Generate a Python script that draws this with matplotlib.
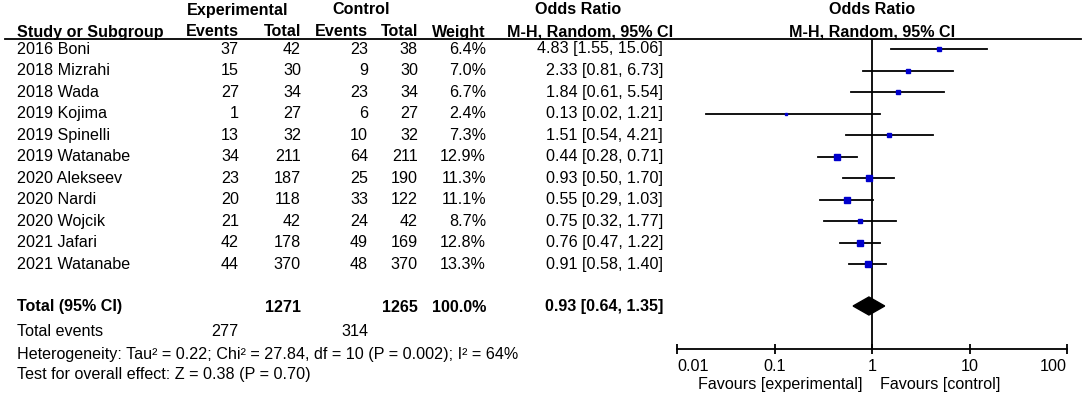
import matplotlib
matplotlib.use("Agg")
import matplotlib.pyplot as plt
import numpy as np
from matplotlib.patches import Polygon

plt.rcParams["font.family"] = ["Liberation Sans", "DejaVu Sans"]

# ----- data -----
studies = ["2016 Boni", "2018 Mizrahi", "2018 Wada", "2019 Kojima",
           "2019 Spinelli", "2019 Watanabe", "2020 Alekseev", "2020 Nardi",
           "2020 Wojcik", "2021 Jafari", "2021 Watanabe"]
exp_events = [37, 15, 27, 1, 13, 34, 23, 20, 21, 42, 44]
exp_total = [42, 30, 34, 27, 32, 211, 187, 118, 42, 178, 370]
ctl_events = [23, 9, 23, 6, 10, 64, 25, 33, 24, 49, 48]
ctl_total = [38, 30, 34, 27, 32, 211, 190, 122, 42, 169, 370]
weight = [6.4, 7.0, 6.7, 2.4, 7.3, 12.9, 11.3, 11.1, 8.7, 12.8, 13.3]
odds = [4.83, 2.33, 1.84, 0.13, 1.51, 0.44, 0.93, 0.55, 0.75, 0.76, 0.91]
ci_low = [1.55, 0.81, 0.61, 0.02, 0.54, 0.28, 0.50, 0.29, 0.32, 0.47, 0.58]
ci_high = [15.06, 6.73, 5.54, 1.21, 4.21, 0.71, 1.70, 1.03, 1.77, 1.22, 1.40]

total_exp, total_ctl = 1271, 1265
total_weight = 100.0
events_exp, events_ctl = 277, 314
pooled, pooled_lo, pooled_hi = 0.93, 0.64, 1.35
heterogeneity = "Heterogeneity: Tau² = 0.22; Chi² = 27.84, df = 10 (P = 0.002); I² = 64%"
overall = "Test for overall effect: Z = 0.38 (P = 0.70)"
xticks = [0.01, 0.1, 1, 10, 100]
xtick_labels = ["0.01", "0.1", "1", "10", "100"]

W, H = 1084, 397
FS = 11.6
BLUE = "#0000cc"

fig = plt.figure(figsize=(W / 100, H / 100), dpi=100)

# text layer in pixel coordinates
ax = fig.add_axes([0, 0, 1, 1])
ax.set_xlim(0, W)
ax.set_ylim(H, 0)
ax.axis("off")

# column right edges (px)
c_ee, c_et, c_ce, c_ct, c_w, c_or = 239, 301, 368, 418, 486, 663

def t(x, y, s, ha="left", bold=False):
    ax.text(x, y, s, ha=ha, va="center", fontsize=FS,
            fontweight="bold" if bold else "normal")

# headers
t(238, 10, "Experimental", "center", True)
t(361, 10, "Control", "center", True)
t(578, 10, "Odds Ratio", "center", True)
t(872, 10, "Odds Ratio", "center", True)
t(17, 32, "Study or Subgroup", bold=True)
t(c_ee, 32, "Events", "right", True)
t(c_et, 32, "Total", "right", True)
t(c_ce, 32, "Events", "right", True)
t(c_ct, 32, "Total", "right", True)
t(c_w, 32, "Weight", "right", True)
t(590, 32, "M-H, Random, 95% CI", "center", True)
t(872, 32, "M-H, Random, 95% CI", "center", True)
ax.plot([5, 1081], [38.5, 38.5], color="black", lw=1.3)

row_y = 49 + 21.55 * np.arange(len(studies))
for i, y in enumerate(row_y):
    t(17, y, studies[i])
    t(c_ee, y, str(exp_events[i]), "right")
    t(c_et, y, str(exp_total[i]), "right")
    t(c_ce, y, str(ctl_events[i]), "right")
    t(c_ct, y, str(ctl_total[i]), "right")
    t(c_w, y, f"{weight[i]:.1f}%", "right")
    t(c_or, y, f"{odds[i]:.2f} [{ci_low[i]:.2f}, {ci_high[i]:.2f}]", "right")

y_tot = 307
t(17, y_tot, "Total (95% CI)", bold=True)
t(c_et, y_tot, str(total_exp), "right", True)
t(c_ct, y_tot, str(total_ctl), "right", True)
t(c_w, y_tot, f"{total_weight:.1f}%", "right", True)
t(c_or, y_tot, f"{pooled:.2f} [{pooled_lo:.2f}, {pooled_hi:.2f}]", "right", True)
t(17, 332, "Total events")
t(c_ee, 332, str(events_exp), "right")
t(c_ce, 332, str(events_ctl), "right")
t(17, 355, heterogeneity)
t(17, 375, overall)
t(862, 385, "Favours [experimental]", "right")
t(880, 385, "Favours [control]")

# forest panel, log scale; y kept in pixel units
x0, x1, ytop, ybot = 677, 1067, 38.5, 349
axf = fig.add_axes([x0 / W, (H - ybot) / H, (x1 - x0) / W, (ybot - ytop) / H])
axf.patch.set_alpha(0)
axf.set_xscale("log")
axf.set_xlim(xticks[0], xticks[-1])
axf.set_ylim(ybot, ytop)
for s in ["top", "left", "right"]:
    axf.spines[s].set_visible(False)
axf.spines["bottom"].set_linewidth(1.3)
axf.set_yticks([])
axf.set_xticks(xticks)
axf.set_xticklabels(xtick_labels)
axf.minorticks_off()
axf.tick_params(axis="x", direction="inout", length=7, width=1.3,
                labelsize=FS, pad=4)
labels = axf.get_xticklabels()
labels[0].set_ha("left")
labels[-1].set_ha("right")
axf.axvline(1, color="black", lw=1.3, zorder=1)

for i, y in enumerate(row_y):
    axf.plot([ci_low[i], ci_high[i]], [y, y], color="black", lw=1.3, zorder=2)
    axf.plot(odds[i], y, marker="s", color=BLUE, mec=BLUE, ls="none",
             ms=1.15 * np.sqrt(weight[i]), zorder=3)

axf.add_patch(Polygon([(pooled_lo, 306), (pooled, 297), (pooled_hi, 306),
                       (pooled, 315)], closed=True, facecolor="black",
                      edgecolor="black", zorder=3))

fig.savefig("out.png", dpi=100)
